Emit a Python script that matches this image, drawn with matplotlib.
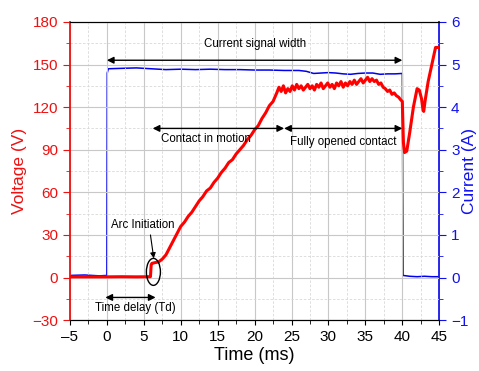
import matplotlib
matplotlib.use("Agg")
import matplotlib.pyplot as plt
from matplotlib.patches import Ellipse
from matplotlib.ticker import MultipleLocator

plt.rcParams['font.family'] = ['Liberation Sans', 'DejaVu Sans']

# voltage trace (ms, V)
t_volt = [-5, -2, 0, 2, 4, 5.9, 6.0, 6.1, 6.5, 7.0, 7.5, 8.0, 8.5, 9.0, 9.5, 10, 10.5, 11, 11.5,
          12, 12.5, 13, 13.5, 14, 14.5, 15, 15.5, 16, 16.5, 17, 17.5, 18, 18.5, 19, 19.5,
          20, 20.5, 21, 21.5, 22, 22.5, 23, 23.3, 23.6, 23.9, 24.2, 24.5, 24.8, 25.1, 25.4,
          25.7, 26, 26.3, 26.6, 26.9, 27.2, 27.5, 27.8, 28.1, 28.4, 28.7, 29, 29.3, 29.6,
          29.9, 30.2, 30.5, 30.8, 31.1, 31.4, 31.7, 32, 32.3, 32.6, 32.9, 33.2, 33.5, 33.8,
          34.1, 34.4, 34.7, 35, 35.3, 35.6, 35.9, 36.2, 36.5, 36.8, 37.1, 37.4, 37.7, 38,
          38.3, 38.6, 38.9, 39.2, 39.5, 39.8, 40.0, 40.15, 40.3, 40.6, 41.0, 41.5, 42.0,
          42.3, 42.6, 42.8, 42.9, 43.1, 43.5, 44.0, 44.5, 45]
voltage = [0.5, 0.5, 0.5, 0.6, 0.5, 0.6, 9, 10, 10.5, 11, 13, 16, 21, 26, 31, 36, 39, 43, 46,
           50, 54, 57, 61, 63, 67, 70, 74, 77, 81, 83, 87, 90, 93, 97, 100,
           104, 107, 112, 116, 121, 124, 130, 134, 131, 135, 130, 133, 131, 135, 132,
           136, 133, 135, 132, 134, 136, 133, 135, 132, 136, 134, 137, 133, 135,
           137, 134, 136, 133, 137, 135, 138, 134, 137, 135, 138, 136, 139, 136,
           138, 140, 137, 139, 141, 138, 140, 138, 139, 136, 137, 134, 133, 131,
           132, 129, 130, 128, 127, 125, 124, 95, 88, 89, 102, 120, 133,
           132, 126, 118, 117, 125, 138, 150, 162, 162]

# current trace (ms, A)
t_curr = [-5, -3, -1, 0.0, 0.05, 0.2, 2, 4, 6, 8, 10, 12, 14, 16, 18, 20, 22, 24, 26,
          27, 28, 29, 30, 31, 32, 33, 34, 35, 36, 37, 38, 39, 40.0, 40.1, 41, 42, 43, 44, 45]
current = [0.05, 0.06, 0.04, 0.05, 4.80, 4.90, 4.91, 4.92, 4.90, 4.88, 4.89, 4.88, 4.89,
           4.88, 4.88, 4.87, 4.87, 4.86, 4.86, 4.84, 4.79, 4.80, 4.81, 4.80, 4.78, 4.77,
           4.79, 4.80, 4.80, 4.77, 4.78, 4.78, 4.79, 0.05, 0.03, 0.02, 0.03, 0.02, 0.02]

fig = plt.figure(figsize=(4.79, 3.71), dpi=100)
ax = fig.add_axes([0.146, 0.137, 0.771, 0.804])
ax2 = ax.twinx()

ax.set_xlim(-5, 45)
ax.set_ylim(-30, 180)
ax2.set_ylim(-1, 6)
ax.xaxis.set_major_locator(MultipleLocator(5))
ax.xaxis.set_minor_locator(MultipleLocator(2.5))
ax.yaxis.set_major_locator(MultipleLocator(30))
ax.yaxis.set_minor_locator(MultipleLocator(15))
ax2.yaxis.set_major_locator(MultipleLocator(1))
ax2.yaxis.set_minor_locator(MultipleLocator(0.5))

ax.grid(which='major', color='#c8c8c8', lw=0.8)
ax.grid(which='minor', color='#d8d8d8', lw=0.6, ls=(0, (3, 2)))
ax.set_axisbelow(True)

ax2.plot(t_curr, current, color='#0000ee', lw=1.1, zorder=2)
ax.plot(t_volt, voltage, color='#ff0000', lw=2.2, zorder=3)
ax.set_zorder(ax2.get_zorder() + 1)
ax.patch.set_visible(False)

red = '#ee1111'
blue = '#1111ee'
ax.spines['left'].set_color(red)
ax.spines['left'].set_linewidth(1.3)
ax2.spines['left'].set_visible(False)
ax2.spines['right'].set_color(blue)
ax2.spines['right'].set_linewidth(1.3)
ax.spines['right'].set_visible(False)
ax.tick_params(axis='y', which='both', colors=red, labelsize=11, direction='out')
ax.tick_params(axis='y', which='major', length=5)
ax.tick_params(axis='y', which='minor', length=3)
ax.tick_params(axis='x', which='both', labelsize=11, direction='out')
ax.tick_params(axis='x', which='minor', length=3)
ax2.tick_params(axis='y', which='both', colors=blue, labelsize=11, direction='out')
ax2.tick_params(axis='y', which='major', length=5)
ax2.tick_params(axis='y', which='minor', length=3)
ax.set_xticks(ax.get_xticks())
ax.set_xticklabels([f'{v:g}'.replace('-', '\u2013') for v in ax.get_xticks()])
ax.set_ylim(-30, 180)
ax.set_xlim(-5, 45)

ax.set_xlabel('Time (ms)', fontsize=13, labelpad=2)
ax.set_ylabel('Voltage (V)', fontsize=12.5, color=red, labelpad=4)
ax2.set_ylabel('Current (A)', fontsize=12.5, color=blue, rotation=90,
               ha='center', va='center')
ax2.yaxis.set_label_coords(1.083, 0.5)

arrow = dict(arrowstyle='<|-|>', color='black', lw=1.0, mutation_scale=10, shrinkA=0, shrinkB=0)
ax.annotate('', xy=(0, 153), xytext=(40, 153), arrowprops=arrow)
ax.text(20, 160, 'Current signal width', fontsize=8.3, ha='center', va='bottom')
ax.annotate('', xy=(6.2, 105), xytext=(24, 105), arrowprops=arrow)
ax.annotate('', xy=(24, 105), xytext=(40, 105), arrowprops=arrow)
ax.text(7.3, 102, 'Contact in motion', fontsize=8.3, ha='left', va='top')
ax.text(24.8, 100, 'Fully opened contact', fontsize=8.3, ha='left', va='top')
ax.annotate('', xy=(-0.2, -14), xytext=(6.6, -14), arrowprops=arrow)
ax.text(3.8, -17, 'Time delay (Td)', fontsize=8.3, ha='center', va='top')
ax.text(4.9, 33, 'Arc Initiation', fontsize=8.3, ha='center', va='bottom')
ax.annotate('', xy=(6.35, 13.5), xytext=(5.9, 30),
            arrowprops=dict(arrowstyle='-|>', color='black', lw=0.8, mutation_scale=8,
                            shrinkA=0, shrinkB=0))
ax.add_patch(Ellipse((6.3, 4), 1.9, 19, fill=False, ec='black', lw=1.0, zorder=5))

fig.savefig('out.png', dpi=100)
